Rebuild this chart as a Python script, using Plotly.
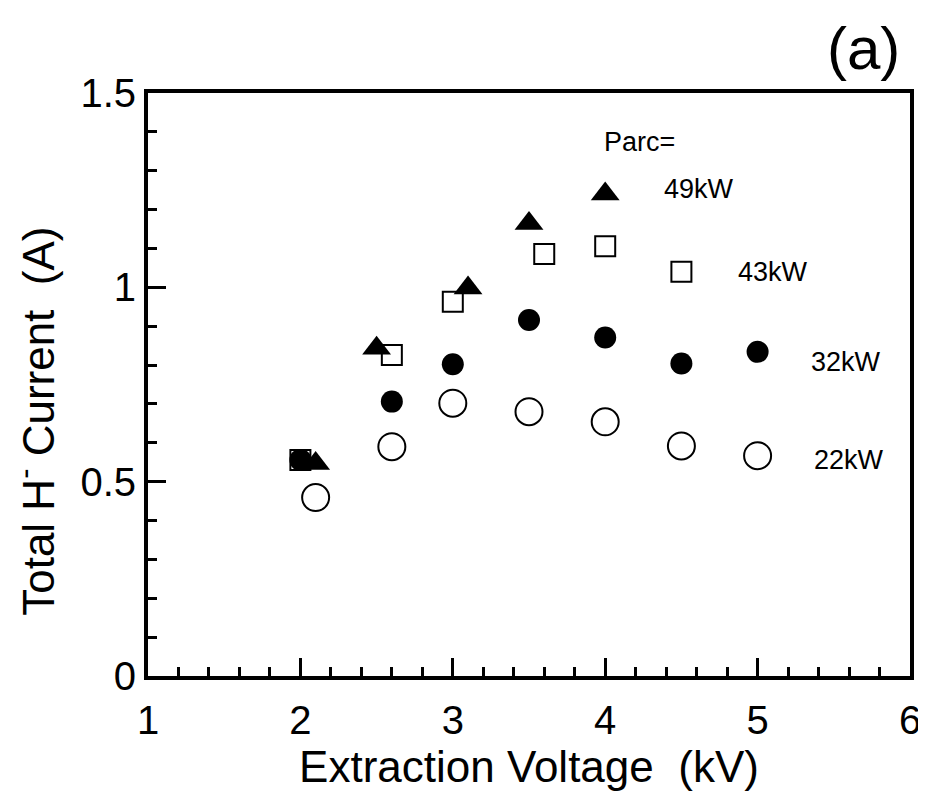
import plotly.graph_objects as go

# Data (Extraction voltage kV, total H- current A)
x_49 = [2.1, 2.5, 3.1, 3.5, 4.0]
y_49 = [0.547, 0.843, 0.998, 1.164, 1.240]

x_43 = [2.0, 2.6, 3.0, 3.6, 4.0, 4.5]
y_43 = [0.556, 0.826, 0.963, 1.086, 1.106, 1.040]

x_32 = [2.0, 2.6, 3.0, 3.5, 4.0, 4.5, 5.0]
y_32 = [0.556, 0.706, 0.802, 0.916, 0.871, 0.804, 0.834]

x_22 = [2.1, 2.6, 3.0, 3.5, 4.0, 4.5, 5.0]
y_22 = [0.459, 0.590, 0.702, 0.680, 0.654, 0.592, 0.567]

x_ticks = [1, 2, 3, 4, 5, 6]
y_ticks = [0, 0.5, 1, 1.5]

FONT = "Liberation Sans, Arial, sans-serif"

fig = go.Figure()
fig.add_trace(go.Scatter(x=x_43, y=y_43, mode="markers",
                         marker=dict(symbol="square-open", size=20, color="black",
                                     line=dict(width=2, color="black"))))
fig.add_trace(go.Scatter(x=x_32, y=y_32, mode="markers",
                         marker=dict(symbol="circle", size=22, color="black")))
fig.add_trace(go.Scatter(x=x_49, y=y_49, mode="markers",
                         marker=dict(symbol="triangle-up", size=25, color="black")))
fig.add_trace(go.Scatter(x=x_22, y=y_22, mode="markers",
                         marker=dict(symbol="circle-open", size=27, color="black",
                                     line=dict(width=2, color="black"))))

labels = [
    (3.98, 1.374, "Parc="),
    (4.37, 1.253, "49kW"),
    (4.86, 1.039, "43kW"),
    (5.34, 0.809, "32kW"),
    (5.36, 0.556, "22kW"),
]
for lx, ly, txt in labels:
    fig.add_annotation(x=lx, y=ly, text=txt, showarrow=False, xanchor="left",
                       yanchor="middle", font=dict(family=FONT, size=27, color="black"))

fig.add_annotation(x=1.0, y=1.0, xref="paper", yref="paper", xshift=-8, yshift=80,
                   text="(a)", showarrow=False, xanchor="right", yanchor="top",
                   font=dict(family=FONT, size=60, color="black"))

# y-axis title (placed slightly below the axis centre as in the reference)
fig.add_annotation(x=0, y=0.436, xref="paper", yref="paper", xshift=-113,
                   text="Total H<sup>-</sup> Current  (A)", textangle=-90, showarrow=False,
                   xanchor="center", yanchor="middle",
                   font=dict(family=FONT, size=44, color="black"))

# the page body adds an 8px offset; size/margins compensate so the plot
# area lands at x 148..910, y 93..676 in the window
fig.update_layout(
    width=918, height=783,
    margin=dict(l=140, r=16, t=85, b=115),
    paper_bgcolor="white", plot_bgcolor="white",
    showlegend=False,
    font=dict(family=FONT, color="black"),
)
fig.update_xaxes(
    range=[1, 6], tickvals=x_ticks, ticktext=[str(v) for v in x_ticks],
    automargin=False,
    showline=True, linewidth=4, linecolor="black", mirror=True,
    ticks="inside", ticklen=18, tickwidth=3, tickcolor="black",
    minor=dict(dtick=0.2, ticks="inside", ticklen=9, tickwidth=3, tickcolor="black"),
    showgrid=False, zeroline=False,
    tickfont=dict(family=FONT, size=40, color="black"),
    ticklabelstandoff=6,
    title=dict(text="Extraction Voltage  (kV)", font=dict(family=FONT, size=44, color="black"),
               standoff=0),
)
fig.update_yaxes(
    range=[0, 1.5], tickvals=y_ticks, ticktext=["0", "0.5", "1", "1.5"],
    automargin=False,
    showline=True, linewidth=4, linecolor="black", mirror=True,
    ticks="inside", ticklen=18, tickwidth=3, tickcolor="black",
    minor=dict(dtick=0.1, ticks="inside", ticklen=9, tickwidth=3, tickcolor="black"),
    showgrid=False, zeroline=False,
    tickfont=dict(family=FONT, size=40, color="black"),
    ticklabelstandoff=0,
)

fig.write_html("out.html")
